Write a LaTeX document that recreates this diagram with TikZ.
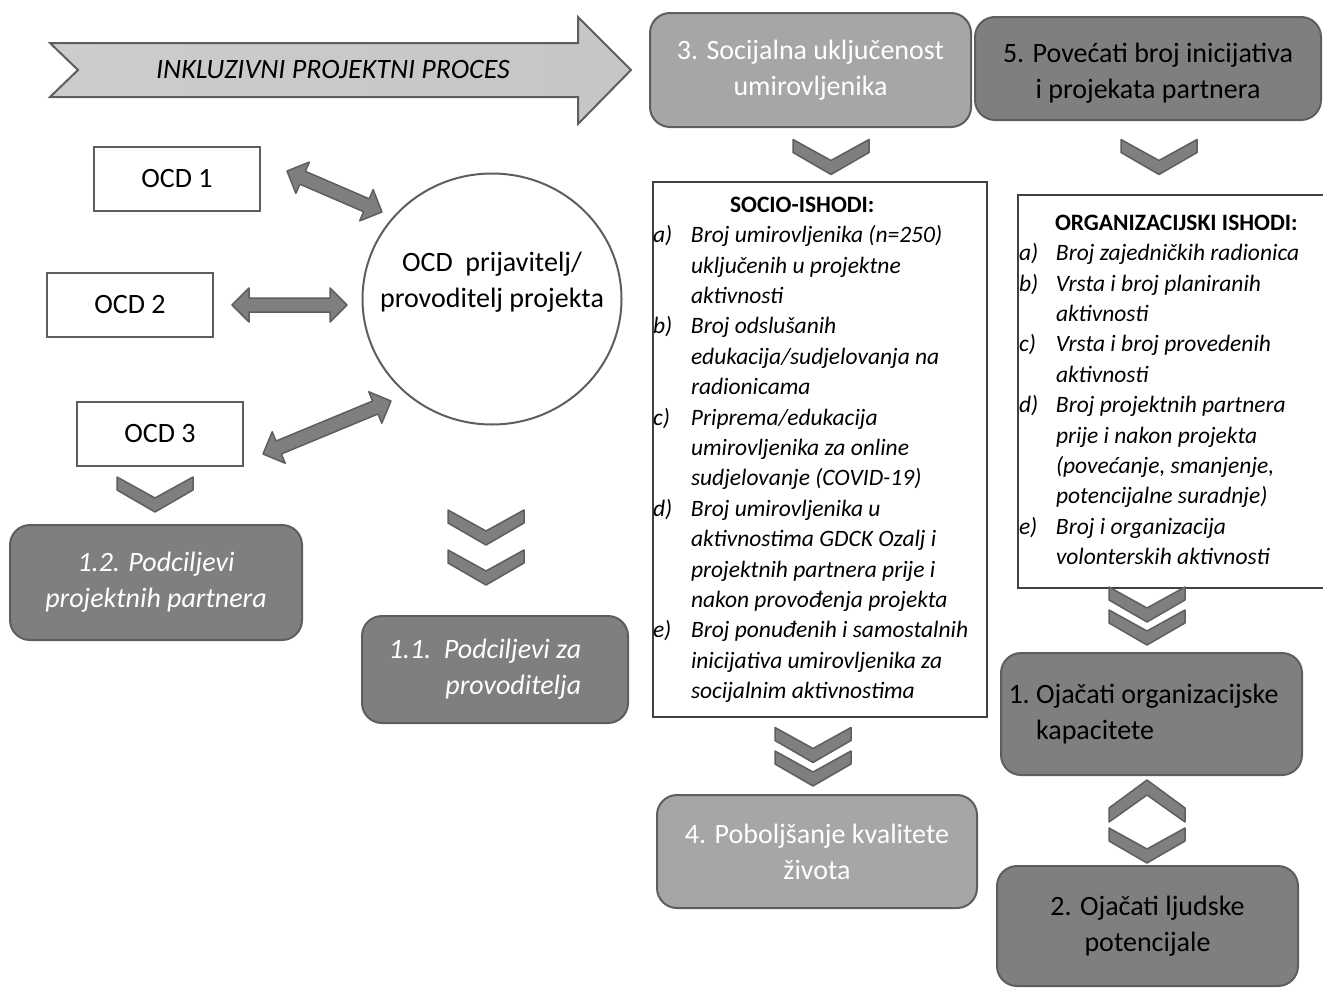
\documentclass[tikz,border=0pt]{standalone}
\usepackage{fontspec}
\setmainfont{Carlito}
\usetikzlibrary{shapes.geometric,calc}
\definecolor{boxdark}{HTML}{7F7F7F}
\definecolor{boxlight}{HTML}{A6A6A6}
\definecolor{edge}{HTML}{5E5E5E}
\newcommand{\bigf}{\fontsize{28}{36}\selectfont}
\newcommand{\listf}{\fontsize{23.5}{30.4}\selectfont}
\newcommand{\fatarr}[2]{%
  \coordinate (fa1) at ($(#1)!17pt!(#2)$);
  \coordinate (fa2) at ($(#2)!17pt!(#1)$);
  \filldraw[fat] (#1) -- ($(fa1)!17pt!90:(#2)$) -- ($(fa1)!7pt!90:(#2)$)
    -- ($(fa2)!7pt!-90:(#1)$) -- ($(fa2)!17pt!-90:(#1)$) -- (#2)
    -- ($(fa2)!17pt!90:(#1)$) -- ($(fa2)!7pt!90:(#1)$)
    -- ($(fa1)!7pt!-90:(#2)$) -- ($(fa1)!17pt!-90:(#2)$) -- cycle;}

\begin{document}
\begin{tikzpicture}[x=1pt,y=-1pt,
  ocdbox/.style={draw=edge, line width=2pt, minimum width=166, minimum height=64, font=\bigf},
  goal/.style={draw=edge, line width=2pt, rounded corners=20, font=\bigf, align=center},
  lista/.style={draw=black!75, line width=2pt, inner sep=0, anchor=north west, font=\listf\itshape},
  fat/.style={fill=boxdark, draw=edge, line width=1.5pt, line join=round},
  chevron/.style={fill=boxdark, draw=edge, line width=1.5pt, line join=round},
  chevd/.pic={\filldraw[chevron] (-38,-17.5) -- (0,3.5) -- (38,-17.5) -- (38,-4.5) -- (0,17.5) -- (-38,-4.5) -- cycle;},
  chevu/.pic={\filldraw[chevron] (0,-21) -- (38,7) -- (38,21) -- (0,-6) -- (-38,21) -- (-38,7) -- cycle;}]
\useasboundingbox (0,0) rectangle (1323,988);

\draw[left color=gray!40, middle color=white!95!gray, right color=gray!45, draw=edge, line width=2pt]
  (50,43) -- (578,43) -- (578,17) -- (631,70) -- (578,124) -- (578,97) -- (50,97) -- (78,70) -- cycle;
\node[font=\bigf\itshape] (proc) at (333,70) {INKLUZIVNI PROJEKTNI PROCES};

\node[ocdbox] (ocd1) at (177,179) {OCD 1};
\node[ocdbox] (ocd2) at (130,305) {OCD 2};
\node[ocdbox] (ocd3) at (160,434) {OCD 3};
\node[draw=edge, line width=2pt, ellipse, inner sep=0, minimum width=259, minimum height=251, font=\bigf] (ocd) at (492,299)
  {\makebox[0pt]{\begin{tabular}{@{}c@{}}OCD\ \ prijavitelj/\\provoditelj projekta\\[34pt]\end{tabular}}};

\node[goal, fill=boxlight, text=white, minimum width=321, minimum height=114] (b3) at (810.5,70) {3. Socijalna uključenost\\umirovljenika};
\node[goal, fill=boxdark, minimum width=346, minimum height=103] (b5) at (1148,68.5) {\raisebox{-5pt}[42pt][30pt]{\begin{tabular}{@{}c@{}}5. Povećati broj inicijativa\\i projekata partnera\end{tabular}}};
\node[goal, fill=boxdark, minimum width=301, minimum height=122] (b1) at (1151.5,714) {\begin{tabular}{@{}l@{\ }l@{\hspace{16pt}}}1. & Ojačati organizacijske\\ & kapacitete\end{tabular}};
\node[goal, fill=boxdark, minimum width=301, minimum height=120] (b2) at (1147.5,926) {2. Ojačati ljudske\\potencijale};
\node[goal, fill=boxlight, text=white, minimum width=320, minimum height=113] (b4) at (817,851.5) {4. Poboljšanje kvalitete\\života};
\node[goal, fill=boxdark, text=white, font=\bigf\itshape, minimum width=292, minimum height=115] (b12) at (156,582.5) {1.2. Podciljevi\\projektnih partnera};
\node[goal, fill=boxdark, text=white, font=\bigf\itshape, minimum width=266, minimum height=107] (b11) at (495,669.5) {\begin{tabular}{@{}r@{\hspace{20pt}}}1.1.\ \ Podciljevi za\\provoditelja\end{tabular}};

\node[lista, minimum width=334, minimum height=535] (socio) at (652,181) {\begin{tabular}{@{}p{38pt}@{}p{296pt}@{}}
\multicolumn{2}{@{}l@{}}{\hspace{77pt}\upshape\bfseries SOCIO-ISHODI:}\\
a) & Broj umirovljenika (n=250)\\
 & uključenih u projektne\\
 & aktivnosti\\
b) & Broj odslušanih\\
 & edukacija/sudjelovanja na\\
 & radionicama\\
c) & Priprema/edukacija\\
 & umirovljenika za online\\
 & sudjelovanje (COVID-19)\\
d) & Broj umirovljenika u\\
 & aktivnostima GDCK Ozalj i\\
 & projektnih partnera prije i\\
 & nakon provođenja projekta\\
e) & Broj ponuđenih i samostalnih\\
 & inicijativa umirovljenika za\\
 & socijalnim aktivnostima
\end{tabular}};

\node[lista, draw=none, minimum width=350, minimum height=391] (org) at (1018,195) {\begin{tabular}{@{}p{37pt}@{}p{313pt}@{}}
\multicolumn{2}{@{}l@{}}{\hspace{36pt}\upshape\bfseries ORGANIZACIJSKI ISHODI:}\\
a) & Broj zajedničkih radionica\\
b) & Vrsta i broj planiranih\\
 & aktivnosti\\
c) & Vrsta i broj provedenih\\
 & aktivnosti\\
d) & Broj projektnih partnera\\
 & prije i nakon projekta\\
 & (povećanje, smanjenje,\\
 & potencijalne suradnje)\\
e) & Broj i organizacija\\
 & volonterskih aktivnosti
\end{tabular}};
\draw[draw=black!75, line width=2pt] (org.north east) -- (org.north west) -- (org.south west) -- (org.south east);

\coordinate (o1a) at (287,171);
\coordinate (o1b) at (382,212);
\coordinate (o2a) at (232,305);
\coordinate (o2b) at (347,305);
\coordinate (o3a) at (263,454);
\coordinate (o3b) at (391,401);
\fatarr{o1a}{o1b}
\fatarr{o2a}{o2b}
\fatarr{o3a}{o3b}

\pic at (831,157) {chevd};
\pic at (1159,157) {chevd};
\pic at (155,494.5) {chevd};
\pic at (486,527.5) {chevd};
\pic at (486,567.5) {chevd};
\pic at (813,745) {chevd};
\pic at (813,768.5) {chevd};
\pic at (1147,604.5) {chevd};
\pic at (1147,627.5) {chevd};
\pic at (1147,801) {chevu};
\pic at (1147,845.5) {chevd};
\end{tikzpicture}
\end{document}
